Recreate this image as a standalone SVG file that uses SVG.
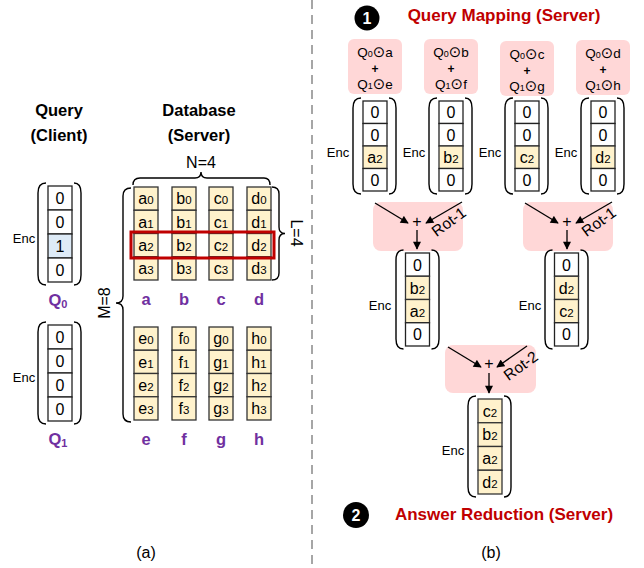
<svg xmlns="http://www.w3.org/2000/svg" width="644" height="568" viewBox="0 0 644 568">
<defs>
<style>
.t{font-family:"Liberation Sans","DejaVu Sans",Arial,sans-serif;font-size:16px;text-anchor:middle;fill:#000}
.s{font-size:11.5px}
.enc{font-size:13px}
.c{fill:#fff;stroke:#222;stroke-width:1.3}
.y{fill:#FFF2CC;stroke:#333;stroke-width:1.3}
.bl{fill:#DEEBF7;stroke:#222;stroke-width:1.3}
.p{fill:none;stroke:#000;stroke-width:1.4}
.pink{fill:#FFD7D7}
.lbl{font-weight:bold;fill:#7030A0;font-size:16.5px}
.hd{font-weight:bold;font-size:16.5px}
.red{font-weight:bold;fill:#C00000;font-size:17px}
.ar{stroke:#000;stroke-width:1.3;fill:none;marker-end:url(#ah)}
.q{font-size:13.5px}
.od{font-family:"DejaVu Sans",sans-serif;font-size:15px}
.pl{font-size:12px;font-weight:bold}
.rot{font-size:15.5px}
</style>
<marker id="ah" viewBox="0 0 10 10" refX="9" refY="5" markerWidth="9" markerHeight="8" markerUnits="userSpaceOnUse" orient="auto"><path d="M0,0 L10,5 L0,10 z" fill="#000"/></marker>
</defs>

<line x1="312" y1="0" x2="312" y2="568" stroke="#A6A6A6" stroke-width="2" stroke-dasharray="9 6"/>

<g id="hdr-query">
<text class="t hd" x="59" y="116">Query</text>
<text class="t hd" x="59" y="141">(Client)</text>
</g>
<g id="hdr-db">
<text class="t hd" x="199" y="116">Database</text>
<text class="t hd" x="199" y="141">(Server)</text>
</g>

<g id="q0">
<rect class="c" x="48" y="186" width="24" height="24"/>
<rect class="c" x="48" y="210" width="24" height="24"/>
<rect class="bl" x="48" y="234" width="24" height="24"/>
<rect class="c" x="48" y="258" width="24" height="24"/>
<text class="t" x="60" y="203.5">0</text>
<text class="t" x="60" y="227.5">0</text>
<text class="t" x="60" y="251.5">1</text>
<text class="t" x="60" y="275.5">0</text>
<path class="p" d="M46,183 Q38,183 38,193 L38,275 Q38,285 46,285"/>
<path class="p" d="M74,183 Q81,183 81,193 L81,275 Q81,285 74,285"/>
<text class="t enc" x="24" y="243">Enc</text>
<text class="t lbl" x="58" y="306">Q<tspan font-size="11" dy="2">0</tspan></text>
</g>

<g id="q1">
<rect class="c" x="48" y="325" width="24" height="24"/>
<rect class="c" x="48" y="349" width="24" height="24"/>
<rect class="c" x="48" y="373" width="24" height="24"/>
<rect class="c" x="48" y="397" width="24" height="24"/>
<text class="t" x="60" y="342.5">0</text>
<text class="t" x="60" y="366.5">0</text>
<text class="t" x="60" y="390.5">0</text>
<text class="t" x="60" y="414.5">0</text>
<path class="p" d="M46,322 Q38,322 38,332 L38,414 Q38,424 46,424"/>
<path class="p" d="M74,322 Q81,322 81,332 L81,414 Q81,424 74,424"/>
<text class="t enc" x="24" y="382">Enc</text>
<text class="t lbl" x="58" y="445">Q<tspan font-size="11" dy="2">1</tspan></text>
</g>

<g id="db-abcd">
<g id="col-a">
<rect class="y" x="134" y="187" width="24" height="23.25"/><rect class="y" x="134" y="210.25" width="24" height="23.25"/><rect class="y" x="134" y="233.5" width="24" height="23.25"/><rect class="y" x="134" y="256.75" width="24" height="23.25"/>
<text class="t" x="146" y="204">a<tspan class="s">0</tspan></text><text class="t" x="146" y="227.5">a<tspan class="s">1</tspan></text><text class="t" x="146" y="250.5">a<tspan class="s">2</tspan></text><text class="t" x="146" y="274">a<tspan class="s">3</tspan></text>
<text class="t lbl" x="146" y="305">a</text>
</g>
<g id="col-b">
<rect class="y" x="172" y="187" width="24" height="23.25"/><rect class="y" x="172" y="210.25" width="24" height="23.25"/><rect class="y" x="172" y="233.5" width="24" height="23.25"/><rect class="y" x="172" y="256.75" width="24" height="23.25"/>
<text class="t" x="184" y="204">b<tspan class="s">0</tspan></text><text class="t" x="184" y="227.5">b<tspan class="s">1</tspan></text><text class="t" x="184" y="250.5">b<tspan class="s">2</tspan></text><text class="t" x="184" y="274">b<tspan class="s">3</tspan></text>
<text class="t lbl" x="184" y="305">b</text>
</g>
<g id="col-c">
<rect class="y" x="209" y="187" width="24" height="23.25"/><rect class="y" x="209" y="210.25" width="24" height="23.25"/><rect class="y" x="209" y="233.5" width="24" height="23.25"/><rect class="y" x="209" y="256.75" width="24" height="23.25"/>
<text class="t" x="221" y="204">c<tspan class="s">0</tspan></text><text class="t" x="221" y="227.5">c<tspan class="s">1</tspan></text><text class="t" x="221" y="250.5">c<tspan class="s">2</tspan></text><text class="t" x="221" y="274">c<tspan class="s">3</tspan></text>
<text class="t lbl" x="221" y="305">c</text>
</g>
<g id="col-d">
<rect class="y" x="247" y="187" width="24" height="23.25"/><rect class="y" x="247" y="210.25" width="24" height="23.25"/><rect class="y" x="247" y="233.5" width="24" height="23.25"/><rect class="y" x="247" y="256.75" width="24" height="23.25"/>
<text class="t" x="259" y="204">d<tspan class="s">0</tspan></text><text class="t" x="259" y="227.5">d<tspan class="s">1</tspan></text><text class="t" x="259" y="250.5">d<tspan class="s">2</tspan></text><text class="t" x="259" y="274">d<tspan class="s">3</tspan></text>
<text class="t lbl" x="259" y="305">d</text>
</g>
<rect x="131" y="232" width="143" height="26" fill="none" stroke="#C00000" stroke-width="3"/>
</g>

<g id="db-efgh">
<g id="col-e">
<rect class="y" x="134" y="327" width="24" height="23.25"/><rect class="y" x="134" y="350.25" width="24" height="23.25"/><rect class="y" x="134" y="373.5" width="24" height="23.25"/><rect class="y" x="134" y="396.75" width="24" height="23.25"/>
<text class="t" x="146" y="344">e<tspan class="s">0</tspan></text><text class="t" x="146" y="367.5">e<tspan class="s">1</tspan></text><text class="t" x="146" y="390.5">e<tspan class="s">2</tspan></text><text class="t" x="146" y="414">e<tspan class="s">3</tspan></text>
<text class="t lbl" x="146" y="445">e</text>
</g>
<g id="col-f">
<rect class="y" x="172" y="327" width="24" height="23.25"/><rect class="y" x="172" y="350.25" width="24" height="23.25"/><rect class="y" x="172" y="373.5" width="24" height="23.25"/><rect class="y" x="172" y="396.75" width="24" height="23.25"/>
<text class="t" x="184" y="344">f<tspan class="s">0</tspan></text><text class="t" x="184" y="367.5">f<tspan class="s">1</tspan></text><text class="t" x="184" y="390.5">f<tspan class="s">2</tspan></text><text class="t" x="184" y="414">f<tspan class="s">3</tspan></text>
<text class="t lbl" x="184" y="445">f</text>
</g>
<g id="col-g">
<rect class="y" x="209" y="327" width="24" height="23.25"/><rect class="y" x="209" y="350.25" width="24" height="23.25"/><rect class="y" x="209" y="373.5" width="24" height="23.25"/><rect class="y" x="209" y="396.75" width="24" height="23.25"/>
<text class="t" x="221" y="344">g<tspan class="s">0</tspan></text><text class="t" x="221" y="367.5">g<tspan class="s">1</tspan></text><text class="t" x="221" y="390.5">g<tspan class="s">2</tspan></text><text class="t" x="221" y="414">g<tspan class="s">3</tspan></text>
<text class="t lbl" x="221" y="445">g</text>
</g>
<g id="col-h">
<rect class="y" x="247" y="327" width="24" height="23.25"/><rect class="y" x="247" y="350.25" width="24" height="23.25"/><rect class="y" x="247" y="373.5" width="24" height="23.25"/><rect class="y" x="247" y="396.75" width="24" height="23.25"/>
<text class="t" x="259" y="344">h<tspan class="s">0</tspan></text><text class="t" x="259" y="367.5">h<tspan class="s">1</tspan></text><text class="t" x="259" y="390.5">h<tspan class="s">2</tspan></text><text class="t" x="259" y="414">h<tspan class="s">3</tspan></text>
<text class="t lbl" x="259" y="445">h</text>
</g>
</g>

<g id="braces">
<path class="p" d="M133,185 Q133,178 140,178 L195,178 Q201,178 201,172 Q201,178 207,178 L264,178 Q270,178 270,185"/>
<text class="t" x="201" y="168">N=4</text>
<path class="p" d="M272,187 Q279,187 279,194 L279,227 Q279,233.5 285,233.5 Q279,233.5 279,240 L279,273 Q279,280 272,280"/>
<text class="t" x="291" y="233" transform="rotate(90 291 233)">L=4</text>
<path class="p" d="M131,188 Q123,188 123,196 L123,296 Q123,303 116,303 Q123,303 123,310 L123,414 Q123,422 131,422"/>
<text class="t" x="110" y="303" transform="rotate(-90 110 303)">M=8</text>
</g>

<text class="t" x="146" y="558">(a)</text>
<text class="t" x="491" y="558">(b)</text>

<g id="step1">
<circle cx="367" cy="18" r="12.5" fill="#000"/>
<text class="t" x="367" y="23.5" style="fill:#fff;font-weight:bold">1</text>
<text class="t red" x="504" y="21">Query Mapping (Server)</text>
</g>

<g id="map-a">
<rect class="pink" x="348" y="39" width="54" height="55" rx="6"/>
<text class="t q" x="375" y="57">Q<tspan font-size="9">0</tspan><tspan class="od">⊙</tspan>a</text>
<text class="t pl" x="375" y="73">+</text>
<text class="t q" x="375" y="89">Q<tspan font-size="9">1</tspan><tspan class="od">⊙</tspan>e</text>
</g>
<g id="map-b">
<rect class="pink" x="424" y="39" width="54" height="55" rx="6"/>
<text class="t q" x="451" y="57">Q<tspan font-size="9">0</tspan><tspan class="od">⊙</tspan>b</text>
<text class="t pl" x="451" y="73">+</text>
<text class="t q" x="451" y="89">Q<tspan font-size="9">1</tspan><tspan class="od">⊙</tspan>f</text>
</g>
<g id="map-c">
<rect class="pink" x="500" y="41" width="54" height="55" rx="6"/>
<text class="t q" x="527" y="59">Q<tspan font-size="9">0</tspan><tspan class="od">⊙</tspan>c</text>
<text class="t pl" x="527" y="75">+</text>
<text class="t q" x="527" y="91">Q<tspan font-size="9">1</tspan><tspan class="od">⊙</tspan>g</text>
</g>
<g id="map-d">
<rect class="pink" x="576" y="40" width="54" height="55" rx="6"/>
<text class="t q" x="603" y="58">Q<tspan font-size="9">0</tspan><tspan class="od">⊙</tspan>d</text>
<text class="t pl" x="603" y="74">+</text>
<text class="t q" x="603" y="90">Q<tspan font-size="9">1</tspan><tspan class="od">⊙</tspan>h</text>
</g>

<g id="enc-a">
<rect class="c" x="363" y="101" width="24" height="22.5"/><rect class="c" x="363" y="123.5" width="24" height="22.5"/><rect class="y" x="363" y="146" width="24" height="22.5"/><rect class="c" x="363" y="168.5" width="24" height="22.5"/>
<text class="t" x="375" y="118">0</text><text class="t" x="375" y="140.5">0</text><text class="t" x="375" y="163">a<tspan class="s">2</tspan></text><text class="t" x="375" y="185.5">0</text>
<path class="p" d="M361,98 Q353,98 353,108 L353,184 Q353,194 361,194"/>
<path class="p" d="M389,98 Q396,98 396,108 L396,184 Q396,194 389,194"/>
<text class="t enc" x="338" y="157">Enc</text>
</g>
<g id="enc-b">
<rect class="c" x="439" y="101" width="24" height="22.5"/><rect class="c" x="439" y="123.5" width="24" height="22.5"/><rect class="y" x="439" y="146" width="24" height="22.5"/><rect class="c" x="439" y="168.5" width="24" height="22.5"/>
<text class="t" x="451" y="118">0</text><text class="t" x="451" y="140.5">0</text><text class="t" x="451" y="163">b<tspan class="s">2</tspan></text><text class="t" x="451" y="185.5">0</text>
<path class="p" d="M437,98 Q429,98 429,108 L429,184 Q429,194 437,194"/>
<path class="p" d="M465,98 Q472,98 472,108 L472,184 Q472,194 465,194"/>
<text class="t enc" x="414" y="157">Enc</text>
</g>
<g id="enc-c">
<rect class="c" x="515" y="101" width="24" height="22.5"/><rect class="c" x="515" y="123.5" width="24" height="22.5"/><rect class="y" x="515" y="146" width="24" height="22.5"/><rect class="c" x="515" y="168.5" width="24" height="22.5"/>
<text class="t" x="527" y="118">0</text><text class="t" x="527" y="140.5">0</text><text class="t" x="527" y="163">c<tspan class="s">2</tspan></text><text class="t" x="527" y="185.5">0</text>
<path class="p" d="M513,98 Q505,98 505,108 L505,184 Q505,194 513,194"/>
<path class="p" d="M541,98 Q548,98 548,108 L548,184 Q548,194 541,194"/>
<text class="t enc" x="490" y="157">Enc</text>
</g>
<g id="enc-d">
<rect class="c" x="591" y="101" width="24" height="22.5"/><rect class="c" x="591" y="123.5" width="24" height="22.5"/><rect class="y" x="591" y="146" width="24" height="22.5"/><rect class="c" x="591" y="168.5" width="24" height="22.5"/>
<text class="t" x="603" y="118">0</text><text class="t" x="603" y="140.5">0</text><text class="t" x="603" y="163">d<tspan class="s">2</tspan></text><text class="t" x="603" y="185.5">0</text>
<path class="p" d="M589,98 Q581,98 581,108 L581,184 Q581,194 589,194"/>
<path class="p" d="M617,98 Q624,98 624,108 L624,184 Q624,194 617,194"/>
<text class="t enc" x="566" y="157">Enc</text>
</g>

<g id="comb-ab">
<rect class="pink" x="373" y="202" width="90" height="49" rx="8"/>
<text class="t" x="417" y="227">+</text>
<text class="t rot" x="449" y="227" transform="rotate(-36 449 222)">Rot-1</text>
</g>
<g id="comb-cd">
<rect class="pink" x="523" y="202" width="90" height="49" rx="8"/>
<text class="t" x="567" y="227">+</text>
<text class="t rot" x="599" y="227" transform="rotate(-36 599 222)">Rot-1</text>
</g>

<g id="mid-ab">
<rect class="c" x="405.5" y="253" width="24" height="23.25"/><rect class="y" x="405.5" y="276.25" width="24" height="23.25"/><rect class="y" x="405.5" y="299.5" width="24" height="23.25"/><rect class="c" x="405.5" y="322.75" width="24" height="23.25"/>
<text class="t" x="417.5" y="270.5">0</text><text class="t" x="417.5" y="293.5">b<tspan class="s">2</tspan></text><text class="t" x="417.5" y="317">a<tspan class="s">2</tspan></text><text class="t" x="417.5" y="340">0</text>
<path class="p" d="M403.5,250 Q396,250 396,260 L396,339 Q396,349 403.5,349"/>
<path class="p" d="M431.5,250 Q439,250 439,260 L439,339 Q439,349 431.5,349"/>
<text class="t enc" x="380" y="310">Enc</text>
</g>
<g id="mid-cd">
<rect class="c" x="554.5" y="253" width="24" height="23.25"/><rect class="y" x="554.5" y="276.25" width="24" height="23.25"/><rect class="y" x="554.5" y="299.5" width="24" height="23.25"/><rect class="c" x="554.5" y="322.75" width="24" height="23.25"/>
<text class="t" x="566.5" y="270.5">0</text><text class="t" x="566.5" y="293.5">d<tspan class="s">2</tspan></text><text class="t" x="566.5" y="317">c<tspan class="s">2</tspan></text><text class="t" x="566.5" y="340">0</text>
<path class="p" d="M552.5,250 Q545,250 545,260 L545,339 Q545,349 552.5,349"/>
<path class="p" d="M580.5,250 Q588,250 588,260 L588,339 Q588,349 580.5,349"/>
<text class="t enc" x="530" y="310">Enc</text>
</g>

<g id="comb-all">
<rect class="pink" x="445" y="345" width="91" height="48" rx="8"/>
<text class="t" x="489" y="369">+</text>
<text class="t rot" x="521" y="371" transform="rotate(-36 521 366)">Rot-2</text>
</g>

<g id="final">
<rect class="y" x="478" y="399" width="24" height="23.75"/><rect class="y" x="478" y="422.75" width="24" height="23.75"/><rect class="y" x="478" y="446.5" width="24" height="23.75"/><rect class="y" x="478" y="470.25" width="24" height="23.75"/>
<text class="t" x="490" y="416.5">c<tspan class="s">2</tspan></text><text class="t" x="490" y="440">b<tspan class="s">2</tspan></text><text class="t" x="490" y="464">a<tspan class="s">2</tspan></text><text class="t" x="490" y="487.5">d<tspan class="s">2</tspan></text>
<path class="p" d="M476,396 Q468,396 468,406 L468,487 Q468,497 476,497"/>
<path class="p" d="M504,396 Q511,396 511,406 L511,487 Q511,497 504,497"/>
<text class="t enc" x="453" y="455">Enc</text>
</g>

<g id="step2">
<circle cx="356" cy="515" r="13" fill="#000"/>
<text class="t" x="356" y="520.5" style="fill:#fff;font-weight:bold">2</text>
<text class="t red" x="504" y="520">Answer Reduction (Server)</text>
</g>

<g id="connectors">
<line class="ar" x1="375" y1="203" x2="408" y2="223"/>
<line class="ar" x1="462" y1="202" x2="426" y2="223"/>
<line class="ar" x1="417" y1="230" x2="417" y2="249"/>
<line class="ar" x1="525" y1="203" x2="558" y2="223"/>
<line class="ar" x1="612" y1="202" x2="576" y2="223"/>
<line class="ar" x1="567" y1="230" x2="567" y2="249"/>
<line class="ar" x1="448" y1="347" x2="481" y2="367"/>
<line class="ar" x1="527" y1="346" x2="497" y2="367"/>
<line class="ar" x1="489" y1="373" x2="489" y2="393"/>
</g>
</svg>
